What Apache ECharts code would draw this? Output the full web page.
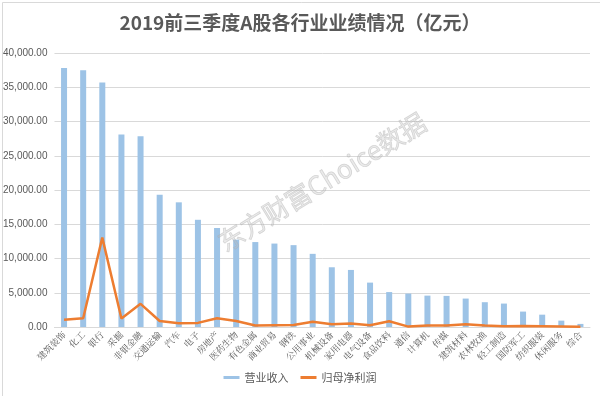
<!DOCTYPE html>
<html>
<head>
<meta charset="utf-8">
<script src="https://cdn.jsdelivr.net/npm/echarts@6/dist/echarts.min.js"></script>
<style>html,body{margin:0;padding:0;background:#fff;}#c{width:600px;height:396px;}</style>
</head>
<body>
<div id="c"></div>
<script>
const categories = ['建筑装饰','化工','银行','采掘','非银金融','交通运输','汽车','电子','房地产','医药生物','有色金属','商业贸易','钢铁','公用事业','机械设备','家用电器','电气设备','食品饮料','通信','计算机','传媒','建筑材料','农林牧渔','轻工制造','国防军工','纺织服装','休闲服务','综合'];
const revenue = [37800,37500,35700,28100,27850,19300,18200,15650,14450,12750,12400,12180,11950,10680,8720,8330,6480,5100,4880,4580,4540,4150,3620,3420,2250,1800,930,450];
const netProfit = [1050,1280,13050,1250,3380,880,560,600,1280,880,220,260,300,780,400,500,260,840,60,220,220,400,230,120,130,120,80,20];
const yTicks = [0,5000,10000,15000,20000,25000,30000,35000,40000];

const chart = echarts.init(document.getElementById('c'));
const fmt = v => v.toLocaleString('en-US',{minimumFractionDigits:2,maximumFractionDigits:2});
chart.setOption({
  backgroundColor:'#fff',
  animation:false,
  title:{text:'2019前三季度A股各行业业绩情况（亿元）',left:'center',top:8,
    textStyle:{fontSize:19,fontWeight:'bold',color:'#595959',fontFamily:'"Noto Sans CJK SC", sans-serif'}},
  grid:{left:50,right:10,top:53,bottom:69},
  legend:{bottom:8,left:'center',itemWidth:16,itemHeight:3,itemGap:12,
    textStyle:{fontSize:11,color:'#595959',fontFamily:'"Noto Sans CJK SC", sans-serif'},
    data:[{name:'营业收入',icon:'rect'},{name:'归母净利润',icon:'rect'}]},
  xAxis:{type:'category',data:categories,
    axisLine:{lineStyle:{color:'#d9d9d9'}},axisTick:{show:false},
    axisLabel:{rotate:45,interval:0,fontSize:9,color:'#595959',margin:6,fontFamily:'"Noto Serif CJK SC","Noto Sans CJK SC", serif'}},
  yAxis:{type:'value',min:yTicks[0],max:yTicks[yTicks.length-1],interval:5000,
    axisLine:{show:false},axisTick:{show:false},
    splitLine:{lineStyle:{color:'#d9d9d9'}},
    axisLabel:{formatter:fmt,fontSize:10,color:'#595959',margin:7,fontFamily:'"Liberation Sans", sans-serif'}},
  series:[
    {name:'营业收入',type:'bar',data:revenue,barWidth:6,itemStyle:{color:'#9dc3e6'}},
    {name:'归母净利润',type:'line',data:netProfit,symbol:'none',lineStyle:{color:'#ed7d31',width:2.5},itemStyle:{color:'#ed7d31'}}
  ],
  graphic:[
    {type:'rect',left:0,top:0,shape:{width:599,height:395},style:{fill:'none',stroke:'#d9d9d9',lineWidth:1},silent:true,z:-1},
    {type:'text',x:322,y:182,rotation:0.55,z:100,silent:true,
      style:{text:'东方财富Choice数据',fontSize:26,fontFamily:'"Noto Sans CJK SC", sans-serif',
        fill:'rgba(190,190,190,0.3)',stroke:'rgba(170,170,170,0.45)',lineWidth:0.8,align:'center',verticalAlign:'middle'}}
  ]
});
</script>
</body>
</html>
